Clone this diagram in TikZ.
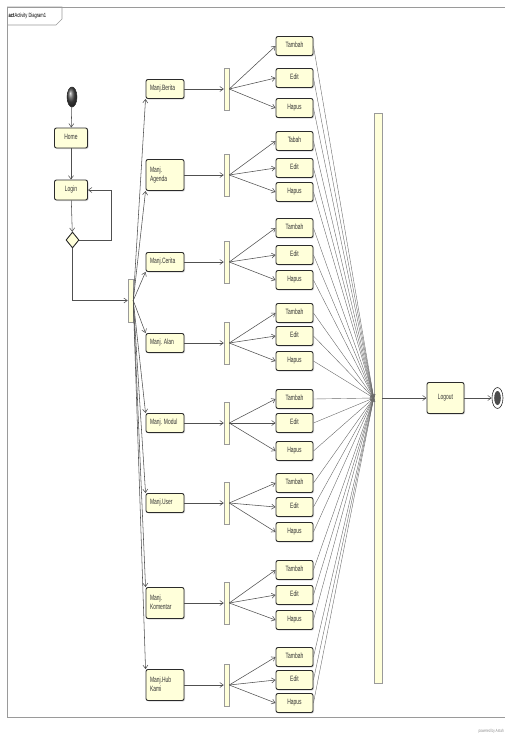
\documentclass[tikz,border=0pt]{standalone}
\usepackage{fontspec}
\newfontfamily\lbf{Liberation Sans}
\usetikzlibrary{arrows.meta,shadows,shapes.geometric,calc}
\definecolor{boxfill}{HTML}{FFFFDA}
\definecolor{edgec}{HTML}{2B2B2B}
\definecolor{connc}{HTML}{505050}
\definecolor{framec}{HTML}{9A9A9A}
\newcommand\tx[1]{\scalebox{0.9}[1.4]{\begin{tabular}{@{}l@{}}#1\end{tabular}}}
\begin{document}
\begin{tikzpicture}[x=1pt,y=-1pt,
  act/.style={draw=edgec,line width=0.9pt,fill=boxfill,rounded corners=2pt,inner sep=0pt,
    minimum width=37pt,minimum height=19pt,text=black!80,font=\lbf\fontsize{5.5}{6.3}\selectfont,
    drop shadow={shadow xshift=1pt,shadow yshift=-1pt,fill=black!30}},
  manj/.style={act,minimum width=38pt},
  barnode/.style={draw=framec,line width=0.5pt,fill=boxfill,inner sep=0pt,minimum width=5pt,
    drop shadow={shadow xshift=1pt,shadow yshift=-1pt,fill=black!20}},
  conn/.style={draw=connc,line width=0.55pt,-{Straight Barb[length=3.5pt,width=5pt]}},
  joinc/.style={draw=connc!85,line width=0.4pt,-{Straight Barb[length=3pt,width=4pt]}},
  ]
\useasboundingbox (0,0) rectangle (505,736);
% frame
\draw[framec,line width=0.7pt] (505,7) -- (7,7) -- (7,717) -- (505,717);
\draw[framec,line width=0.6pt] (7,7) -- (62,7) -- (62,19) -- (56,25) -- (7,25);
\node[anchor=west,inner sep=0pt,font=\lbf\fontsize{4.5}{5}\selectfont] (title) at (8.5,16)
  {\scalebox{0.9}[1.35]{\textbf{act}Activity Diagram1}};
\node[anchor=east,inner sep=0pt,text=black!45,font=\lbf\fontsize{3.5}{4}\selectfont] (pw) at (504,731)
  {\scalebox{0.9}[1.3]{powered by Astah}};
% start
\node[ellipse,draw=edgec,line width=0.5pt,ball color=black!70,minimum width=10pt,minimum height=20pt,inner sep=0pt] (init) at (72,97) {};
\node[act,minimum width=33pt,minimum height=20pt] (home) at (71,138) {\tx{Home}};
\node[act,minimum width=33pt,minimum height=20pt] (login) at (71,190) {\tx{Login}};
\node[diamond,draw=edgec,line width=0.9pt,fill=boxfill,inner sep=0pt,minimum width=13pt,minimum height=16pt] (dia) at (72.5,240) {};
\node[barnode,minimum height=43pt] (fork) at (130.5,300.5) {};
\draw[conn] (init) -- (home);
\draw[conn] (home) -- (login);
\draw[conn] (login) -- (dia);
\draw[conn] (dia.east) -- ($(dia.east)+(32,0)$) |- (login.east);
\draw[conn] (dia.south) |- (fork.west);
% join and end
\node[barnode,minimum width=8pt,minimum height=570pt] (join) at (378,398) {};
\node[act,minimum height=31pt] (logout) at (445.5,398) {\tx{Logout}};
\node[ellipse,draw=edgec,line width=0.6pt,fill=white,minimum width=11pt,minimum height=21pt,inner sep=0pt] (fin) at (497.5,398) {};
\fill[black!70] (fin.center) ellipse [x radius=3.3pt,y radius=7pt];
\draw[conn] (join.east) -- (logout.west);
\draw[conn] (logout.east) -- (fin.west);
% groups
\foreach \i/\y/\h/\lab/\ta/\tb/\tc/\tn in {
  1/89/19/{Manj.Berita}/46/78/108/Tambah,
  2/175/31/{Manj.\\Agenda}/141/168/192/Tabah,
  3/262/19/{Manj.Cerita}/228/255/280/Tambah,
  4/343/19/{Manj. Alan}/313/336/361/Tambah,
  5/423/19/{Manj. Modul}/399/423/451/Tambah,
  6/503/19/{Manj.User}/483/507/532/Tambah,
  7/603/31/{Manj.\\Komentar}/570/595/620/Tambah,
  8/685/31/{Manj.Hub\\Kami}/657/680/703/Tambah}{
  \node[manj,minimum height=\h pt] (m\i) at (165,\y) {\makebox[30pt][l]{\tx{\lab}}};
  \node[barnode,minimum height=42pt] (f\i) at (226.5,\y) {};
  \node[act] (t\i) at (294.5,\ta) {\tx{\tn}};
  \node[act] (e\i) at (294.5,\tb) {\tx{Edit}};
  \node[act] (h\i) at (294.5,\tc) {\tx{Hapus}};
  \draw[conn] (m\i.east) -- (f\i.west);
  \draw[conn] (f\i.east) -- (t\i.west);
  \draw[conn] (f\i.east) -- (e\i.west);
  \draw[conn] (f\i.east) -- (h\i.west);
  \draw[joinc] (t\i.east) -- (join.west);
  \draw[joinc] (e\i.east) -- (join.west);
  \draw[joinc] (h\i.east) -- (join.west);
}
\draw[conn] (fork.east) -- (m1.south west);
\draw[conn] (fork.east) -- (m2.south west);
\draw[conn] (fork.east) -- (m3.south west);
\draw[conn] (fork.east) -- (m4.north west);
\draw[conn] (fork.east) -- (m5.north west);
\draw[conn] (fork.east) -- (m6.north west);
\draw[conn] (fork.east) -- (m7.north west);
\draw[conn] (fork.east) -- (m8.north west);
\end{tikzpicture}
\end{document}
